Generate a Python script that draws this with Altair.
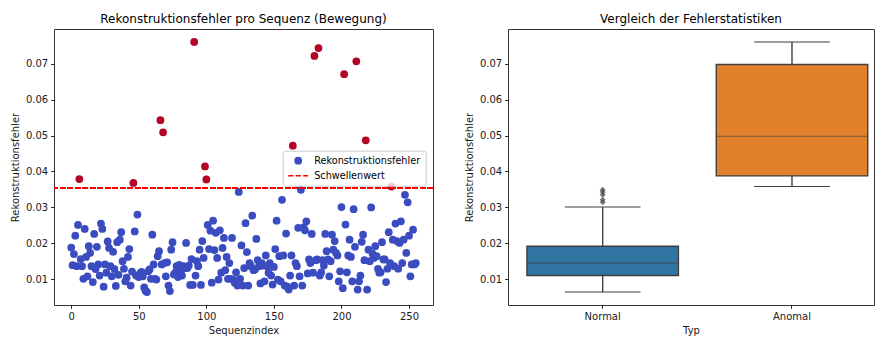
import altair as alt
import pandas as pd

FONT = "DejaVu Sans"

# ---------------- data ----------------
seq_index = list(range(256))
recon_error = [
    0.0188, 0.0139, 0.0170, 0.0221, 0.0136, 0.0251, 0.0379, 0.0156, 0.0136, 0.0101,
    0.0240, 0.0162, 0.0108, 0.0192, 0.0173, 0.0136, 0.0092, 0.0226, 0.0128, 0.0190,
    0.0141, 0.0110, 0.0255, 0.0240, 0.0079, 0.0141, 0.0118, 0.0205, 0.0187, 0.0136,
    0.0108, 0.0176, 0.0128, 0.0081, 0.0203, 0.0112, 0.0210, 0.0231, 0.0150, 0.0129,
    0.0094, 0.0104, 0.0162, 0.0184, 0.0082, 0.0121, 0.0368, 0.0233, 0.0110, 0.0280,
    0.0106, 0.0116, 0.0120, 0.0108, 0.0077, 0.0068, 0.0064, 0.0122, 0.0127, 0.0101,
    0.0224, 0.0141, 0.0101, 0.0099, 0.0164, 0.0178, 0.0543, 0.0141, 0.0509, 0.0145,
    0.0108, 0.0147, 0.0082, 0.0067, 0.0182, 0.0203, 0.0113, 0.0118, 0.0136, 0.0106,
    0.0140, 0.0118, 0.0110, 0.0136, 0.0131, 0.0201, 0.0131, 0.0138, 0.0084, 0.0156,
    0.0084, 0.0761, 0.0110, 0.0150, 0.0136, 0.0182, 0.0084, 0.0206, 0.0159, 0.0414,
    0.0378, 0.0251, 0.0184, 0.0235, 0.0090, 0.0263, 0.0181, 0.0229, 0.0159, 0.0099,
    0.0236, 0.0118, 0.0187, 0.0215, 0.0125, 0.0162, 0.0101, 0.0145, 0.0101, 0.0215,
    0.0099, 0.0090, 0.0119, 0.0082, 0.0343, 0.0101, 0.0194, 0.0082, 0.0131, 0.0256,
    0.0175, 0.0082, 0.0145, 0.0136, 0.0277, 0.0125, 0.0127, 0.0212, 0.0153, 0.0136,
    0.0088, 0.0145, 0.0138, 0.0094, 0.0166, 0.0136, 0.0118, 0.0145, 0.0110, 0.0085,
    0.0134, 0.0184, 0.0263, 0.0099, 0.0164, 0.0094, 0.0321, 0.0166, 0.0082, 0.0227,
    0.0079, 0.0071, 0.0110, 0.0166, 0.0472, 0.0082, 0.0145, 0.0136, 0.0243, 0.0108,
    0.0349, 0.0082, 0.0244, 0.0236, 0.0261, 0.0116, 0.0155, 0.0145, 0.0226, 0.0118,
    0.0722, 0.0153, 0.0155, 0.0744, 0.0110, 0.0119, 0.0153, 0.0138, 0.0226, 0.0178,
    0.0155, 0.0108, 0.0150, 0.0224, 0.0182, 0.0206, 0.0173, 0.0166, 0.0094, 0.0122,
    0.0301, 0.0075, 0.0671, 0.0252, 0.0119, 0.0166, 0.0210, 0.0162, 0.0094, 0.0295,
    0.0190, 0.0707, 0.0071, 0.0094, 0.0110, 0.0204, 0.0224, 0.0153, 0.0487, 0.0071,
    0.0182, 0.0150, 0.0300, 0.0171, 0.0159, 0.0192, 0.0164, 0.0129, 0.0118, 0.0119,
    0.0203, 0.0155, 0.0155, 0.0092, 0.0129, 0.0231, 0.0145, 0.0358, 0.0210, 0.0136,
    0.0255, 0.0206, 0.0129, 0.0201, 0.0261, 0.0145, 0.0210, 0.0335, 0.0173, 0.0314,
    0.0221, 0.0108, 0.0141, 0.0238, 0.0141, 0.0145,
]
threshold = 0.0353
type_order = ["Normal", "Anomal"]
legend_labels = ["Rekonstruktionsfehler", "Schwellenwert"]
x_ticks = [0, 50, 100, 150, 200, 250]
y_ticks = [0.01, 0.02, 0.03, 0.04, 0.05, 0.06, 0.07]

df = pd.DataFrame({"Sequenzindex": seq_index, "Rekonstruktionsfehler": recon_error})
df["Typ"] = ["Anomal" if v > threshold else "Normal" for v in recon_error]
df["Legende"] = legend_labels[0]

# ---------------- styling helpers ----------------
y_dom = [0.0028, 0.0797]
x_dom = [-12.75, 267.75]
TXT = "#1a1a1a"
FS = 10

def axis(**kw):
    base = dict(
        domain=False, grid=False, ticks=True, tickSize=3.3, tickWidth=1, tickColor="#222",
        labelFont=FONT, labelFontSize=FS, labelColor=TXT, labelPadding=3,
        titleFont=FONT, titleFontSize=FS, titleColor=TXT, titleFontWeight="normal",
    )
    base.update(kw)
    return alt.Axis(**base)

def title(text):
    return alt.TitleParams(text=text, font=FONT, fontSize=12, fontWeight="normal",
                           color="#000", anchor="middle", baseline="alphabetic", offset=-6)

# dashed-line legend symbol (three dashes)
dash_path = "M-2.58,0L-1.24,0M-0.64,0L0.7,0M1.3,0L2.58,0"

legend = alt.Legend(
    title=None, orient="none", legendX=228.7, legendY=121.7,
    symbolSize=60, symbolStrokeWidth=1.4, symbolOffset=5.5,
    symbolFillColor="#3b4cc0", symbolOpacity=1,
    labelFont=FONT, labelFontSize=9.7, labelColor="#000", labelOffset=11,
    fillColor="rgba(255,255,255,0.8)", strokeColor="#cccccc", cornerRadius=2,
    padding=5, rowPadding=3,
)

# ---------------- left panel ----------------
points = alt.Chart(df).mark_point(filled=True, size=60, opacity=1, color="#3b4cc0").encode(
    x=alt.X("Sequenzindex:Q", scale=alt.Scale(domain=x_dom, nice=False, zero=False),
            axis=axis(values=x_ticks, format="d", title="Sequenzindex", titlePadding=4)),
    y=alt.Y("Rekonstruktionsfehler:Q", scale=alt.Scale(domain=y_dom, nice=False, zero=False),
            axis=axis(values=y_ticks, format=".2f", title="Rekonstruktionsfehler", titlePadding=5)),
    fill=alt.Fill("Typ:N", scale=alt.Scale(domain=type_order, range=["#3b4cc0", "#b40426"]),
                  legend=None),
    stroke=alt.Stroke("Legende:N",
                      scale=alt.Scale(domain=legend_labels, range=["rgba(0,0,0,0)", "#ff0000"]),
                      legend=legend),
    shape=alt.Shape("Legende:N", scale=alt.Scale(domain=legend_labels, range=["circle", dash_path]),
                    legend=legend),
)

rule = alt.Chart(df).mark_rule(color="#ff0000", strokeDash=[5.2, 2.3], strokeWidth=1.25).encode(
    y=alt.datum(threshold)
)

left = alt.layer(points, rule).properties(
    width=379, height=276, title=title("Rekonstruktionsfehler pro Sequenz (Bewegung)")
)

# ---------------- right panel ----------------
DARK = "#3f3f3f"
right = alt.Chart(df).mark_boxplot(
    extent=1.5, size=151.5,
    box={"stroke": DARK, "strokeWidth": 1.4},
    median={"color": DARK, "strokeWidth": 1.4},
    rule={"color": DARK, "strokeWidth": 1.4},
    ticks={"color": DARK, "size": 75.7, "strokeWidth": 1.4},
    outliers={"color": DARK, "fill": DARK, "shape": "diamond", "size": 36, "filled": True},
).encode(
    x=alt.X("Typ:N", sort=type_order,
            scale=alt.Scale(domain=type_order, paddingInner=0.2, paddingOuter=0.0667, align=0.751),
            axis=axis(title="Typ", labelAngle=0, titlePadding=4)),
    y=alt.Y("Rekonstruktionsfehler:Q", scale=alt.Scale(domain=y_dom, nice=False, zero=False),
            axis=axis(values=y_ticks, format=".2f", title="Rekonstruktionsfehler", titlePadding=5)),
    color=alt.Color("Typ:N", scale=alt.Scale(domain=type_order, range=["#3274a1", "#e1812c"]),
                    legend=None),
).properties(width=366, height=276, title=title("Vergleich der Fehlerstatistiken"))

chart = alt.hconcat(left, right, spacing=75, bounds="flush").resolve_scale(
    color="independent", fill="independent", stroke="independent", shape="independent"
).properties(
    padding={"left": 9, "top": 12, "right": 0, "bottom": 0}, background="white"
).configure_view(stroke="#333", strokeWidth=1)

chart.save("out.html", embed_options={"renderer": "svg", "actions": False})
